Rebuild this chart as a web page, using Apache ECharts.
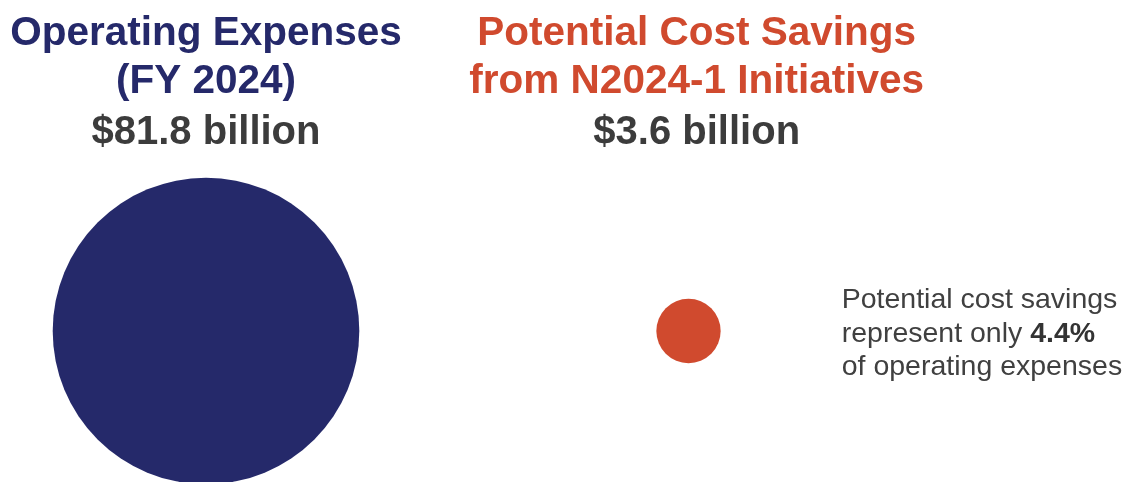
<!DOCTYPE html>
<html>
<head>
<meta charset="utf-8">
<script src="https://cdn.jsdelivr.net/npm/echarts@6/dist/echarts.min.js"></script>
<style>
  html, body { margin: 0; padding: 0; background: #ffffff; }
  #chart { width: 1128px; height: 482px; }
</style>
</head>
<body>
<div id="chart"></div>
<script>
// Two circles whose areas are proportional to the dollar amounts.
const categories = ['Operating Expenses (FY 2024)', 'Potential Cost Savings from N2024-1 Initiatives'];
const titleLines = [
  ['Operating Expenses', '(FY 2024)'],
  ['Potential Cost Savings', 'from N2024-1 Initiatives']
];
const valuesBillion = [81.8, 3.6];
const colors = ['#25296A', '#D04A2E'];

const textGray = '#3C3C3C';
const pxPerSqrtBillion = 33.9;            // circle diameter scale (area ∝ value)
const sharePct = (valuesBillion[1] / valuesBillion[0] * 100).toFixed(1);
const amountLabel = v => '$' + v.toFixed(1) + ' billion';

const titleCenters = [206, 696.7];
const titleFont = 'bold 40.5px "Liberation Sans", Arial, sans-serif';
const amountFont = 'bold 40px "Liberation Sans", Arial, sans-serif';
const noteFont = '28.5px "Liberation Sans", Arial, sans-serif';

const graphics = [];
categories.forEach((c, i) => {
  titleLines[i].forEach((line, j) => {
    graphics.push({
      type: 'text', x: titleCenters[i], y: [33.5, 82][j],
      style: { text: line, font: titleFont, fill: colors[i], textAlign: 'center', textVerticalAlign: 'middle' }
    });
  });
  graphics.push({
    type: 'text', x: titleCenters[i], y: 132.5,
    style: { text: amountLabel(valuesBillion[i]), font: amountFont, fill: textGray, textAlign: 'center', textVerticalAlign: 'middle' }
  });
});

const noteLines = [
  'Potential cost savings',
  'represent only {b|' + sharePct + '%}',
  'of operating expenses'
];
noteLines.forEach((line, k) => {
  graphics.push({
    type: 'text', x: 841.7, y: 300.5 + k * 33.5,
    style: {
      text: line, font: noteFont, fill: '#404040', textAlign: 'left', textVerticalAlign: 'middle',
      rich: { b: { font: 'bold 28.5px "Liberation Sans", Arial, sans-serif', fill: '#333333' } }
    }
  });
});

const chart = echarts.init(document.getElementById('chart'), null, { renderer: 'canvas' });
chart.setOption({
  animation: false,
  backgroundColor: '#ffffff',
  grid: { left: 206, right: 439.5, top: 180, bottom: 0 },
  xAxis: { type: 'category', data: categories, boundaryGap: false, show: false },
  yAxis: { type: 'category', data: [''], show: false },
  series: [{
    type: 'scatter',
    symbol: 'circle',
    data: valuesBillion.map((v, i) => ({ value: [i, 0, v], itemStyle: { color: colors[i], opacity: 1 } })),
    symbolSize: d => pxPerSqrtBillion * Math.sqrt(d[2]),
    itemStyle: { opacity: 1 },
    emphasis: { disabled: true },
    silent: true,
    clip: false
  }],
  graphic: graphics
});
</script>
</body>
</html>
